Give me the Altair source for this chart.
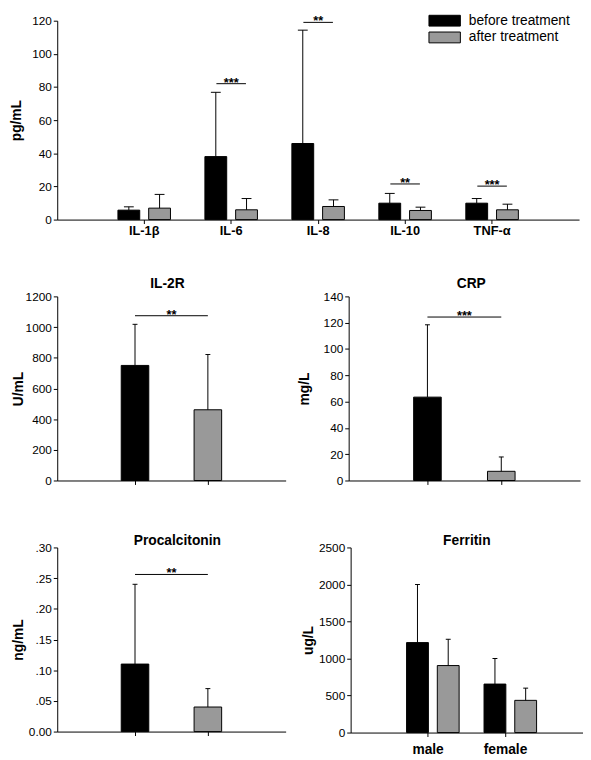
import altair as alt
import pandas as pd

FONT = "Liberation Sans"

# ---------------- data ----------------
series = ["before treatment", "after treatment"]
series_colors = ["#000000", "#999999"]

cytokines = ["IL-1β", "IL-6", "IL-8", "IL-10", "TNF-α"]
cyto_before = [5.7, 38.0, 45.9, 9.9, 9.9]
cyto_before_sd = [2.0, 38.8, 68.4, 5.9, 2.8]
cyto_after = [6.9, 5.9, 7.9, 5.5, 5.9]
cyto_after_sd = [8.3, 6.8, 4.0, 2.0, 3.4]
cyto_sig = ["", "***", "**", "**", "***"]
cyto_sig_y = [None, 82.0, 119.0, 21.5, 20.2]

il2r_vals = [750, 461]
il2r_sd = [268, 360]
il2r_sig = ("**", 1074)

crp_vals = [63.4, 7.0]
crp_sd = [55.0, 10.9]
crp_sig = ("***", 124.3)

pct_vals = [0.11, 0.04]
pct_sd = [0.13, 0.03]
pct_sig = ("**", 0.256)

sexes = ["male", "female"]
fer_before = [1215, 655]
fer_before_sd = [785, 345]
fer_after = [905, 435]
fer_after_sd = [355, 165]

color_scale = alt.Scale(domain=series, range=series_colors)


def grouped_df(cats, before, before_sd, after, after_sd):
    rows = []
    for i, c in enumerate(cats):
        rows.append(dict(cat=c, series=series[0], mean=before[i], upper=before[i] + before_sd[i]))
        rows.append(dict(cat=c, series=series[1], mean=after[i], upper=after[i] + after_sd[i]))
    return pd.DataFrame(rows)


def grouped_panel(cats, df, sig_df, ymax, ystep, unit, width, height, ext, tpad,
                  xlab_size, xlab_pad, bar_inner, bar_outer, cap, sig_len,
                  legend=None, title=None):
    yax = alt.Axis(title=unit, values=list(range(0, ymax + 1, ystep)), format="d",
                   minExtent=ext, maxExtent=ext, titlePadding=tpad)
    ys = alt.Scale(domain=[0, ymax], nice=False)
    xax = alt.Axis(title=None, labelAngle=0, labelFontSize=xlab_size, labelFontWeight="bold",
                   tickSize=4, labelPadding=xlab_pad)
    xs = alt.Scale(paddingInner=0, paddingOuter=0.5)

    def X():
        return alt.X("cat:N", sort=cats, scale=xs, axis=xax)

    def XO():
        return alt.XOffset("series:N", sort=series,
                           scale=alt.Scale(paddingInner=bar_inner, paddingOuter=bar_outer))

    def Y(f):
        return alt.Y(f, type="quantitative", scale=ys, axis=yax)

    base = alt.Chart(df)
    bars = base.mark_bar(stroke="black", strokeWidth=1).encode(
        x=X(), xOffset=XO(), y=Y("mean"),
        color=alt.Color("series:N", scale=color_scale, sort=series,
                        legend=legend if legend is not None else None),
    )
    err = base.mark_rule(color="black", strokeWidth=1).encode(
        x=X(), xOffset=XO(), y=Y("mean"), y2="upper")
    caps = base.mark_tick(color="black", thickness=1, size=cap, orient="horizontal",
                          opacity=1).encode(x=X(), xOffset=XO(), y=Y("upper"))
    layers = [bars, err, caps]
    if sig_df is not None and len(sig_df):
        sb = alt.Chart(sig_df)
        layers.append(sb.mark_tick(color="black", thickness=1, size=sig_len,
                                   orient="horizontal", opacity=1).encode(x=X(), y=Y("y")))
        layers.append(sb.mark_text(font=FONT, fontSize=13, fontWeight="bold",
                                   baseline="alphabetic", dy=3, color="black").encode(
            x=X(), y=Y("y"), text="sig:N"))
    ch = alt.layer(*layers).properties(width=width, height=height)
    if title is not None:
        ch = ch.properties(title=title)
    return ch


def two_bar_panel(vals, sds, sig, ymax, ystep, unit, width, height, ext, tpad, title,
                  label_expr=None):
    df = pd.DataFrame({"pos": [i + 1 for i in range(len(series))], "series": series,
                       "mean": vals, "upper": [v + s for v, s in zip(vals, sds)]})
    sdf = pd.DataFrame({"x1": [1], "x2": [2], "xm": [1.5], "y": [sig[1]], "sig": [sig[0]]})
    n = round(ymax / ystep)
    tick_vals = [round(i * ystep, 4) for i in range(n + 1)]
    axkw = dict(title=unit, values=tick_vals, minExtent=ext, maxExtent=ext, titlePadding=tpad)
    if label_expr:
        axkw["labelExpr"] = label_expr
    else:
        axkw["format"] = "d"
    yax = alt.Axis(**axkw)
    ys = alt.Scale(domain=[0, ymax], nice=False)
    xs = alt.Scale(domain=[0, 3], nice=False, zero=False)
    xax = alt.Axis(title=None, values=[1, 2], labels=False, tickSize=4)

    def X(f):
        return alt.X(f, type="quantitative", scale=xs, axis=xax)

    def Y(f):
        return alt.Y(f, type="quantitative", scale=ys, axis=yax)

    base = alt.Chart(df)
    bars = base.mark_bar(orient="vertical", size=28, stroke="black", strokeWidth=1).encode(
        x=X("pos"), y=Y("mean"),
        color=alt.Color("series:N", scale=color_scale, legend=None))
    err = base.mark_rule(color="black", strokeWidth=1).encode(x=X("pos"), y=Y("mean"), y2="upper")
    caps = base.mark_tick(color="black", thickness=1, size=5, orient="horizontal",
                          opacity=1).encode(x=X("pos"), y=Y("upper"))
    sb = alt.Chart(sdf)
    sline = sb.mark_rule(color="black", strokeWidth=1).encode(x=X("x1"), x2="x2", y=Y("y"))
    stxt = sb.mark_text(font=FONT, fontSize=13, fontWeight="bold", baseline="alphabetic",
                        dy=3, color="black").encode(x=X("xm"), y=Y("y"), text="sig:N")
    return alt.layer(bars, err, caps, sline, stxt).properties(
        width=width, height=height, title=title)


# ---------------- panels ----------------
top_df = grouped_df(cytokines, cyto_before, cyto_before_sd, cyto_after, cyto_after_sd)
top_sig = pd.DataFrame({"cat": cytokines, "sig": cyto_sig, "y": cyto_sig_y}).dropna()

legend = alt.Legend(title=None, orient="none", legendX=386.5, legendY=-7,
                    symbolType="M-2.9,-1H2.9V1H-2.9Z", symbolSize=121,
                    symbolStrokeColor="black", symbolStrokeWidth=1, symbolOpacity=1,
                    labelFont=FONT, labelFontSize=14, labelColor="black",
                    labelOffset=17.5, rowPadding=1, padding=0)

top = grouped_panel(cytokines, top_df, top_sig, 120, 20, "pg/mL", 530, 202, 30, 4,
                    13, 1, 0.29, 0.56, 10, 30, legend=legend)

il2r = two_bar_panel(il2r_vals, il2r_sd, il2r_sig, 1200, 200, "U/mL", 232, 187, 31, 1,
                     alt.TitleParams("IL-2R", dx=-4, offset=0))
crp = two_bar_panel(crp_vals, crp_sd, crp_sig, 140, 20, "mg/L", 235, 187, 30, 8,
                    alt.TitleParams("CRP", dx=7, offset=0))
pct = two_bar_panel(pct_vals, pct_sd, pct_sig, 0.30, 0.05, "ng/mL", 232, 187, 31, 1,
                    alt.TitleParams("Procalcitonin", dx=6, offset=-6),
                    label_expr="datum.value == 0 ? '0.00' : replace(format(datum.value, '.2f'), '0.', '.')")

fer_df = grouped_df(sexes, fer_before, fer_before_sd, fer_after, fer_after_sd)
fer = grouped_panel(sexes, fer_df, None, 2500, 500, "ug/L", 236, 188, 33, 3,
                    14, 6, 0.29, 0.55, 5, 0,
                    title=alt.TitleParams("Ferritin", offset=-6))

mid = alt.hconcat(il2r, crp, spacing=12)
bot = alt.hconcat(pct, fer, spacing=16)
lower = alt.vconcat(mid, bot, spacing=48)

chart = alt.vconcat(top, lower, spacing=40).resolve_scale(color="independent").resolve_legend(
    color="independent").properties(
    padding={"left": 2, "top": 0, "right": 0, "bottom": 0}).configure(
    font=FONT
).configure_axis(
    domainColor="black", tickColor="black", labelColor="black", titleColor="black",
    labelFont=FONT, titleFont=FONT, grid=False, domainWidth=1, tickWidth=1,
).configure_axisY(
    labelFontSize=12, titleFontSize=14, titleFontWeight="bold", tickSize=4, labelPadding=2,
).configure_title(
    font=FONT, fontSize=14, fontWeight="bold", color="black", anchor="middle",
).configure_view(stroke=None)

chart.save("out.html", embed_options={"renderer": "svg", "actions": False})
